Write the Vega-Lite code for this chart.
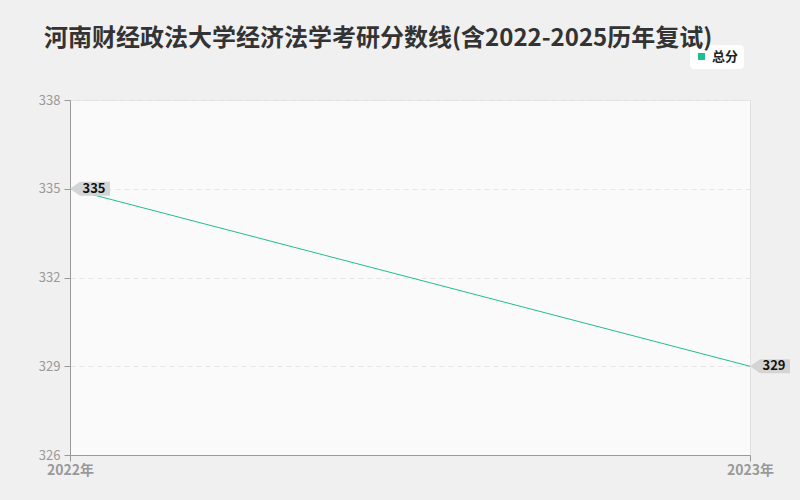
{
  "$schema": "https://vega.github.io/schema/vega-lite/v6.json",
  "autosize": "none",
  "padding": {"left": 70, "top": 100, "right": 50, "bottom": 45},
  "width": 680,
  "height": 355,
  "background": "#f0f0f0",
  "config": {
    "font": "Noto Sans CJK SC",
    "view": {"fill": "#fafafa", "stroke": "#e0e0e0"}
  },
  "title": {
    "text": "河南财经政法大学经济法学考研分数线(含2022-2025历年复试)",
    "anchor": "start",
    "frame": "group",
    "dx": -26,
    "offset": -6,
    "fontSize": 24,
    "fontWeight": "bold",
    "color": "#333333"
  },
  "data": {
    "values": [
      {"year": "2022年", "series": "总分", "score": 335},
      {"year": "2023年", "series": "总分", "score": 329}
    ]
  },
  "encoding": {
    "x": {
      "field": "year",
      "type": "ordinal",
      "scale": {"type": "point", "padding": 0},
      "axis": {
        "title": null,
        "labelAngle": 0,
        "labelColor": "#999999",
        "labelFontSize": 14,
        "labelFontWeight": "bold",
        "domainColor": "#999999",
        "tickColor": "#999999",
        "tickSize": 6,
        "labelPadding": 2,
        "grid": false
      }
    },
    "y": {
      "field": "score",
      "type": "quantitative",
      "scale": {"domain": [326, 338], "nice": false, "zero": false},
      "axis": {
        "title": null,
        "values": [326, 329, 332, 335, 338],
        "labelColor": "#999999",
        "labelFontSize": 13,
        "domainColor": "#999999",
        "tickColor": "#999999",
        "tickSize": 6,
        "labelPadding": 4,
        "grid": true,
        "gridColor": "#e6e6e6",
        "gridDash": [5, 4]
      }
    }
  },
  "layer": [
    {
      "mark": {"type": "line", "strokeWidth": 1, "color": "#1fbf8f"},
      "encoding": {
        "color": {
          "field": "series",
          "type": "nominal",
          "scale": {"range": ["#1fbf8f"]},
          "legend": {
            "title": null,
            "orient": "none",
            "legendX": 620,
            "legendY": -55,
            "symbolType": "square",
            "symbolSize": 30,
            "symbolFillColor": "#1fbf8f",
            "symbolStrokeColor": "#1fbf8f",
            "labelFontSize": 13,
            "labelFontWeight": "bold",
            "labelColor": "#222222",
            "fillColor": "#ffffff",
            "cornerRadius": 4,
            "padding": 5
          }
        }
      }
    },
    {
      "mark": {
        "type": "point",
        "shape": "M-1,0 L-0.5,-0.35 L1,-0.35 L1,0.35 L-0.5,0.35 Z",
        "size": 1600,
        "filled": true,
        "color": "#d4d4d4",
        "opacity": 1,
        "xOffset": 20
      }
    },
    {
      "mark": {
        "type": "text",
        "dx": 24,
        "fontSize": 13,
        "fontWeight": "bold",
        "color": "#111111"
      },
      "encoding": {"text": {"field": "score", "type": "quantitative"}}
    }
  ]
}
